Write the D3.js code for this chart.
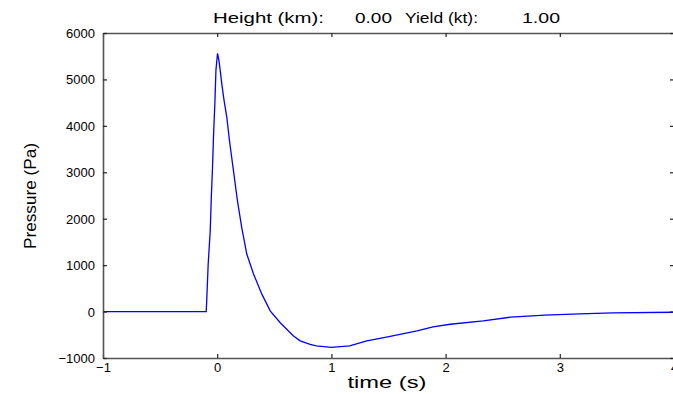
<!DOCTYPE html>
<html>
<head>
<meta charset="utf-8">
<script src="https://cdn.jsdelivr.net/npm/d3@7"></script>
<style>
  body { margin: 0; background: #fff; }
  text { font-family: "Liberation Sans", Arial, sans-serif; fill: #000; }
</style>
</head>
<body>
<svg id="chart" width="673" height="394"></svg>
<script>
// blast overpressure vs time
var times = [-1, -0.096, -0.09, -0.079, -0.061, -0.052, -0.041, -0.032, -0.02, -0.011,
  0.003, 0.015, 0.026, 0.04, 0.06, 0.084, 0.107, 0.142, 0.177, 0.215, 0.259, 0.318,
  0.391, 0.464, 0.552, 0.668, 0.727, 0.814, 0.867, 1.0, 1.16, 1.31, 1.46, 1.6, 1.75,
  1.89, 2.04, 2.33, 2.57, 2.87, 3.17, 3.47, 4.0];
var pressure = [0, 0, 340, 1020, 1740, 2430, 3110, 3800, 4510, 5200,
  5560, 5410, 5200, 4910, 4550, 4190, 3690, 3040, 2390, 1810, 1240, 810,
  375, 15, -240, -525, -630, -705, -741, -770, -741, -633, -561, -489, -417,
  -330, -273, -200, -120, -77, -49, -28, -14];
var xTicks = [-1, 0, 1, 2, 3, 4];
var yTicks = [-1000, 0, 1000, 2000, 3000, 4000, 5000, 6000];

var svg = d3.select("#chart"),
  mLeft = 103, mRight = 674, mTop = 33, mBottom = 358;

var x = d3.scaleLinear().domain([-1, 4]).range([mLeft, mRight]),
  y = d3.scaleLinear().domain([-1000, 6000]).range([mBottom, mTop]);

var data = times.map(function (t, i) { return [t, pressure[i]]; });

var line = d3.line()
  .x(function (d) { return x(d[0]); })
  .y(function (d) { return y(d[1]); });

svg.append("path")
  .datum(data)
  .attr("d", line)
  .attr("fill", "none")
  .attr("stroke", "#0000ff")
  .attr("stroke-width", 1.3);

// box with inward ticks, matlab style
var fmt = function (d) { return d < 0 ? "\u2212" + Math.abs(d) : d; };

var gB = svg.append("g").attr("transform", "translate(0," + mBottom + ")")
  .call(d3.axisBottom(x).tickValues(xTicks).tickSizeInner(-4).tickSizeOuter(0).tickPadding(8).tickFormat(fmt));
var gT = svg.append("g").attr("transform", "translate(0," + mTop + ")")
  .call(d3.axisTop(x).tickValues(xTicks).tickSizeInner(-4).tickSizeOuter(0).tickFormat(""));
var gL = svg.append("g").attr("transform", "translate(" + mLeft + ",0)")
  .call(d3.axisLeft(y).tickValues(yTicks).tickSizeInner(-4).tickSizeOuter(0).tickPadding(8).tickFormat(fmt));
var gR = svg.append("g").attr("transform", "translate(" + mRight + ",0)")
  .call(d3.axisRight(y).tickValues(yTicks).tickSizeInner(-4).tickSizeOuter(0).tickFormat(""));

[gB, gT, gL, gR].forEach(function (g) {
  g.attr("font-size", 13).attr("font-family", null);
  g.select(".domain").attr("stroke", "#555").attr("stroke-width", 1.6);
  g.selectAll(".tick line").attr("stroke", "#222").attr("stroke-width", 1.2);
  g.selectAll(".tick text").style("font-size", "13px");
});
gB.selectAll(".tick text").attr("dy", "0.45em");
gL.selectAll(".tick text").attr("dy", "0.35em");

// title pieces
var title = [
  { s: "Height (km):", x: 213, w: 111 },
  { s: "0.00", x: 355, w: 37 },
  { s: "Yield (kt):", x: 405, w: 73 },
  { s: "1.00", x: 522, w: 38 }
];
svg.selectAll(".title").data(title).enter().append("text")
  .attr("x", function (d) { return d.x; })
  .attr("y", 23)
  .style("font-size", "15px")
  .attr("textLength", function (d) { return d.w; })
  .attr("lengthAdjust", "spacingAndGlyphs")
  .text(function (d) { return d.s; });

svg.append("text")
  .attr("x", 387).attr("y", 388)
  .attr("text-anchor", "middle")
  .style("font-size", "17px")
  .attr("textLength", 79).attr("lengthAdjust", "spacingAndGlyphs")
  .text("time (s)");

svg.append("text")
  .attr("transform", "translate(36,196) rotate(-90)")
  .attr("text-anchor", "middle")
  .style("font-size", "17px")
  .attr("textLength", 106).attr("lengthAdjust", "spacingAndGlyphs")
  .text("Pressure (Pa)");
</script>
</body>
</html>
